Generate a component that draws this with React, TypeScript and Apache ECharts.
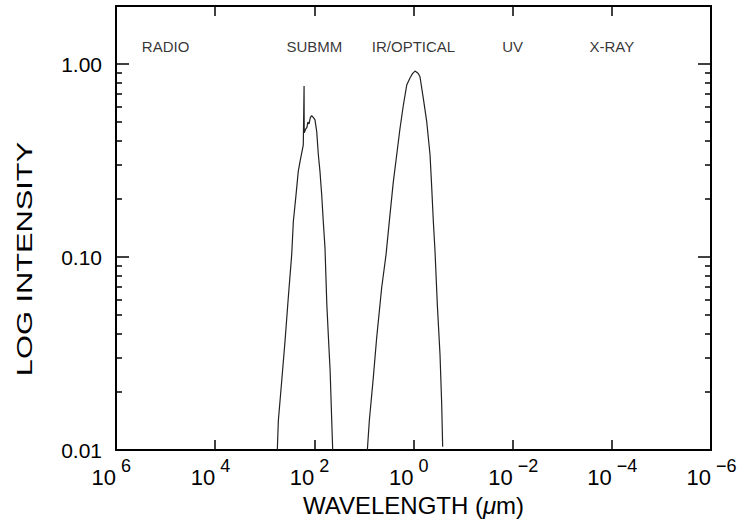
import React, { useEffect, useRef } from 'react';
import * as echarts from 'echarts';

// Submillimetre component (wavelength in micrometres, normalised intensity)
const submmWavelength = [558, 532, 455, 390, 335, 286, 265, 234, 211, 194, 167, 161, 160, 150, 141, 135, 128, 120, 113, 105, 97, 89.5, 83, 77, 71, 66, 61, 56, 52, 48, 45, 42.6];
const submmIntensity = [0.010, 0.0142, 0.0228, 0.0367, 0.0618, 0.103, 0.153, 0.21, 0.278, 0.313, 0.381, 0.77, 0.44, 0.46, 0.47, 0.5, 0.49, 0.53, 0.54, 0.53, 0.514, 0.447, 0.339, 0.278, 0.21, 0.153, 0.112, 0.0569, 0.0384, 0.0257, 0.0153, 0.010];

// IR / optical component
const irWavelength = [8.53, 7.78, 6.46, 5.52, 4.38, 3.58, 2.98, 2.55, 2.18, 1.87, 1.6, 1.37, 1.17, 1.04, 0.93, 0.8, 0.74, 0.634, 0.541, 0.464, 0.429, 0.398, 0.368, 0.331, 0.292, 0.27, 0.258];
const irIntensity = [0.010, 0.0142, 0.0238, 0.0384, 0.0696, 0.103, 0.166, 0.246, 0.339, 0.465, 0.614, 0.779, 0.85, 0.895, 0.92, 0.895, 0.86, 0.665, 0.503, 0.339, 0.229, 0.153, 0.107, 0.0569, 0.0313, 0.0173, 0.0104];

// Band labels
const bandNames = ['RADIO', 'SUBMM', 'IR/OPTICAL', 'UV', 'X-RAY'];
const bandWavelength = [1e5, 1e2, 1e0, 1e-2, 1e-4];
const bandLabelIntensity = 1.24;

// Axes
const xMin = 1e-6;
const xMax = 1e6;
const yMin = 0.01;
const yMax = 2;
const xMajorTicks = [1e6, 1e4, 1e2, 1, 1e-2, 1e-4, 1e-6];
const yMajorTicks = [0.01, 0.1, 1];
const yMinorTicks = [0.02, 0.03, 0.04, 0.05, 0.06, 0.07, 0.08, 0.09, 0.2, 0.3, 0.4, 0.5, 0.6, 0.7, 0.8, 0.9];

const FONT = '"Liberation Sans", Arial, Helvetica, sans-serif';

export default function App() {
  const ref = useRef<HTMLDivElement>(null);

  useEffect(() => {
    if (!ref.current) return;
    const chart = echarts.init(ref.current, undefined, { renderer: 'svg' });

    const xAxisBase = (position: 'bottom' | 'top') => ({
      type: 'log',
      logBase: 10,
      min: xMin,
      max: xMax,
      inverse: true,
      position,
      axisLine: { show: true, onZero: false, lineStyle: { color: '#000', width: 2 } },
      axisTick: { show: true, inside: true, length: 10, customValues: xMajorTicks, lineStyle: { color: '#000', width: 1.5 } },
      axisLabel: { show: false },
      splitLine: { show: false },
      minorTick: { show: false },
    });

    // bottom axis: base "10" of each tick label
    const xBottom: any = xAxisBase('bottom');
    xBottom.axisLabel = {
      show: true,
      customValues: xMajorTicks,
      margin: 16,
      fontSize: 22,
      align: 'right',
      color: '#000',
      fontFamily: FONT,
      formatter: () => '10',
    };
    xBottom.name = 'WAVELENGTH ({mu|\u03bc}m)';
    xBottom.nameLocation = 'middle';
    xBottom.nameGap = 42;
    xBottom.nameTextStyle = {
      fontSize: 24,
      color: '#000',
      fontFamily: FONT,
      rich: { mu: { fontSize: 24, fontStyle: 'italic', color: '#000', fontFamily: FONT } },
    };

    // second bottom axis (no line, no ticks): the exponent of each tick label
    const xExponent: any = xAxisBase('bottom');
    xExponent.axisLine = { show: false, onZero: false };
    xExponent.axisTick = { show: false };
    xExponent.axisLabel = {
      show: true,
      customValues: xMajorTicks,
      margin: 7,
      fontSize: 18,
      align: 'left',
      padding: [0, 0, 0, 5],
      color: '#000',
      fontFamily: FONT,
      formatter: (v: number) => {
        const e = Math.round(Math.log10(v));
        return e < 0 ? '\u2212' + String(-e) : String(e);
      },
    };

    const yAxisBase = (position: 'left' | 'right', ticks: number[], len: number, showLabel: boolean) => ({
      type: 'log',
      logBase: 10,
      min: yMin,
      max: yMax,
      position,
      axisLine: { show: true, onZero: false, lineStyle: { color: '#000', width: 2 } },
      axisTick: { show: true, inside: true, length: len, customValues: ticks, lineStyle: { color: '#000', width: 1.5 } },
      axisLabel: {
        show: showLabel,
        customValues: yMajorTicks,
        margin: 14,
        fontSize: 21,
        color: '#000',
        fontFamily: FONT,
        formatter: (v: number) => Number(v).toFixed(2),
      },
      splitLine: { show: false },
      minorTick: { show: false },
    });

    const option: any = {
      animation: false,
      backgroundColor: '#fff',
      grid: { left: 116, right: 32, top: 6, bottom: 71 },
      xAxis: [xBottom, xAxisBase('top'), xExponent],
      yAxis: [
        yAxisBase('left', yMajorTicks, 13, true),
        yAxisBase('left', yMinorTicks, 6, false),
        yAxisBase('right', yMajorTicks, 13, false),
        yAxisBase('right', yMinorTicks, 6, false),
      ],
      graphic: [
        {
          type: 'text',
          x: 25,
          y: 259,
          rotation: Math.PI / 2,
          scaleX: 1.4,
          style: {
            text: 'LOG INTENSITY',
            fontSize: 22,
            fontFamily: FONT,
            fill: '#000',
            align: 'center',
            verticalAlign: 'middle',
          },
        },
      ],
      series: [
        {
          name: 'SUBMM',
          type: 'line',
          xAxisIndex: 0,
          yAxisIndex: 0,
          showSymbol: false,
          symbol: 'none',
          lineStyle: { color: '#222', width: 1.2 },
          data: submmWavelength.map((w, i) => [w, submmIntensity[i]]),
        },
        {
          name: 'IR/OPTICAL',
          type: 'line',
          xAxisIndex: 0,
          yAxisIndex: 0,
          showSymbol: false,
          symbol: 'none',
          lineStyle: { color: '#222', width: 1.2 },
          data: irWavelength.map((w, i) => [w, irIntensity[i]]),
        },
        {
          name: 'bands',
          type: 'scatter',
          xAxisIndex: 0,
          yAxisIndex: 0,
          symbolSize: 1,
          itemStyle: { color: 'rgba(0,0,0,0)' },
          label: {
            show: true,
            position: 'inside',
            fontSize: 15,
            color: '#000',
            fontFamily: FONT,
            formatter: (p: any) => p.data[2],
          },
          data: bandNames.map((n, i) => [bandWavelength[i], bandLabelIntensity, n]),
        },
      ],
    };

    chart.setOption(option);
    return () => chart.dispose();
  }, []);

  return (
    <div
      ref={ref}
      style={{ position: 'fixed', left: 0, top: 0, width: 743, height: 522, background: '#fff' }}
    />
  );
}
